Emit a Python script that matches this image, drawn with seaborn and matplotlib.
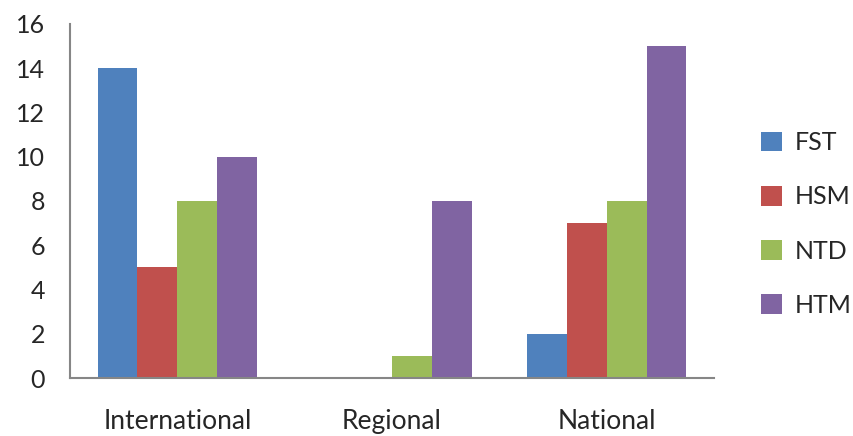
import matplotlib
matplotlib.use("Agg")
import matplotlib.pyplot as plt
import pandas as pd
import seaborn as sns

categories = ["International", "Regional", "National"]
series = ["FST", "HSM", "NTD", "HTM"]
fst = [14, 0, 2]
hsm = [5, 0, 7]
ntd = [8, 1, 8]
htm = [10, 8, 15]
colors = ["#4F81BD", "#C0504D", "#9BBB59", "#8064A2"]

rows = []
for name, vals in zip(series, [fst, hsm, ntd, htm]):
    for cat, v in zip(categories, vals):
        rows.append({"category": cat, "series": name, "value": v})
df = pd.DataFrame(rows)

sns.set_style("white")
plt.rcParams['font.family'] = ['Lato', 'DejaVu Sans']

fig = plt.figure(figsize=(8.54, 4.36), dpi=100)
ax = fig.add_axes([0.082, 0.133, 0.754, 0.812])

sns.barplot(data=df, x="category", y="value", hue="series", order=categories,
            hue_order=series, palette=colors, width=0.744, saturation=1,
            edgecolor="none", ax=ax)

ax.set_xlim(-0.5, 2.5)
ax.set_ylim(0, 16)
ax.set_yticks(range(0, 17, 2))
ax.set_xlabel("")
ax.set_ylabel("")

axis_col = "#868686"
for s in ["top", "right"]:
    ax.spines[s].set_visible(False)
for s in ["left", "bottom"]:
    ax.spines[s].set_color(axis_col)
    ax.spines[s].set_linewidth(1.5)

ax.set_xticks([-0.5, 0.5, 1.5, 2.5], minor=True)
ax.tick_params(axis="x", which="major", length=0, pad=22, labelsize=19)
ax.tick_params(axis="x", which="minor", length=8, width=1.5, color=axis_col, direction="out")
ax.tick_params(axis="y", length=8, width=1.5, color=axis_col, direction="out", pad=10, labelsize=18)

leg = ax.legend(loc="center left", bbox_to_anchor=(1.057, 0.435), frameon=False,
                fontsize=18, handlelength=0.85, handleheight=0.85,
                labelspacing=1.25, handletextpad=0.5, borderaxespad=0)

fig.savefig("out.png", dpi=100)
